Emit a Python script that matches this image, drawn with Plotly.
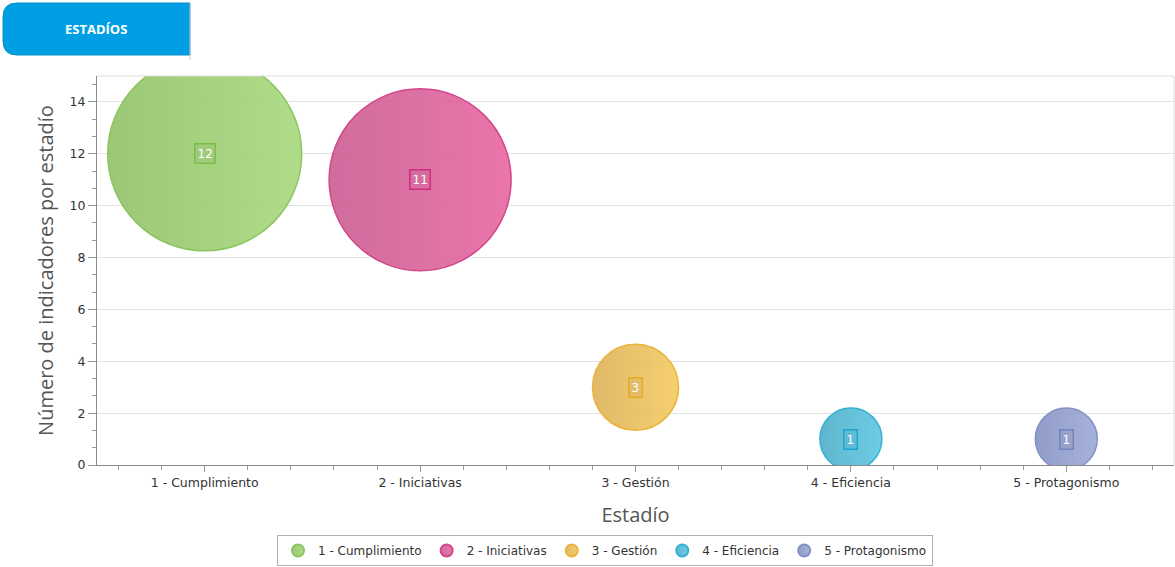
import plotly.graph_objects as go

# Data
estadios = ["1 - Cumplimiento", "2 - Iniciativas", "3 - Gestión", "4 - Eficiencia", "5 - Protagonismo"]
indicadores = [12, 11, 3, 1, 1]

# Styling per stage
fill_dark = ["#8FC064", "#C95A90", "#DCB055", "#4AACC7", "#8290C2"]
fill_light = ["#A6D87A", "#E862A0", "#F4C95C", "#5AC5E2", "#9BA8D6"]
outline = ["#7BBE48", "#D02C7A", "#E8AA22", "#1AA6CF", "#7482BE"]

W, H = 1175, 567
L, R, T, B = 97, 1, 76, 102
PW, PH = W - L - R, H - T - B


def px(x):
    return (x - L) / PW


def py(y):
    return (H - B - y) / PH


fig = go.Figure()

for i, (name, v) in enumerate(zip(estadios, indicadores)):
    fig.add_trace(go.Scatter(
        x=[i], y=[v], name=name, mode="markers",
        marker=dict(
            size=[12 * v + 50], sizemode="diameter", sizeref=1,
            color=fill_dark[i], opacity=0.88,
            gradient=dict(type="horizontal", color=fill_light[i]),
            line=dict(color=outline[i], width=1.5),
        ),
        hoverinfo="x+y",
    ))
    fig.add_annotation(
        x=i, y=v, text=str(v), showarrow=False,
        font=dict(family="DejaVu Sans", size=12, color="white"),
        bordercolor=outline[i], borderwidth=1.5, borderpad=2,
        bgcolor="rgba(0,0,0,0.03)",
    )

# Header tab
r = 14
x0, x1, y0, y1 = 3, 190, 3, 55
path = (
    f"M {px(x1)},{py(y0)} L {px(x0 + r)},{py(y0)} "
    f"Q {px(x0)},{py(y0)} {px(x0)},{py(y0 + r)} "
    f"L {px(x0)},{py(y1 - r)} Q {px(x0)},{py(y1)} {px(x0 + r)},{py(y1)} "
    f"L {px(x1)},{py(y1)} Z"
)
fig.add_shape(type="path", path=path, xref="paper", yref="paper",
              fillcolor="#009FE3", line=dict(color="#0a8fcc", width=1), layer="above")
fig.add_shape(type="line", xref="paper", yref="paper",
              x0=px(190), x1=px(190), y0=py(3), y1=py(60),
              line=dict(color="#c8c8c8", width=1))
fig.add_annotation(x=px(96), y=py(29), xref="paper", yref="paper", text="<b>ESTADÍOS</b>",
                   xanchor="center", yanchor="middle",
                   showarrow=False, font=dict(family="Open Sans", size=13, color="white"))

# Plot frame (top and right)
fig.add_shape(type="line", xref="paper", yref="paper", x0=0, x1=1, y0=1, y1=1,
              line=dict(color="#dcdcdc", width=1))
fig.add_shape(type="line", xref="paper", yref="paper", x0=1, x1=1, y0=0, y1=1,
              line=dict(color="#dcdcdc", width=1))

fig.update_layout(
    width=W, height=H,
    margin=dict(l=L, r=R, t=T, b=B, autoexpand=False),
    paper_bgcolor="white", plot_bgcolor="white",
    font=dict(family="DejaVu Sans", size=12, color="#333"),
    showlegend=True,
    legend=dict(
        orientation="h", x=px(605), xanchor="center", y=py(535), yanchor="top",
        bordercolor="#b0b0b0", borderwidth=1, bgcolor="white",
        font=dict(family="DejaVu Sans", size=12, color="#333"),
        itemsizing="constant",
    ),
)

fig.update_xaxes(
    range=[-0.5, 4.5], tickvals=list(range(len(estadios))), ticktext=estadios,
    showgrid=False, zeroline=False, automargin=False,
    showline=True, linecolor="#8a8a8a", linewidth=1,
    ticks="outside", ticklen=6, tickcolor="#9a9a9a",
    minor=dict(dtick=0.2, tick0=0, ticks="outside", ticklen=4, tickcolor="#9a9a9a"),
    tickfont=dict(family="DejaVu Sans", size=12.5, color="#333"),
    title=dict(text="Estadío", font=dict(family="Open Sans", size=20, color="#555"), standoff=18),
)
fig.update_yaxes(
    range=[0, 15], dtick=2, tick0=0,
    showgrid=True, gridcolor="#e2e2e2", gridwidth=1, zeroline=False, automargin=False,
    showline=True, linecolor="#8a8a8a", linewidth=1,
    ticks="outside", ticklen=8, tickcolor="#9a9a9a",
    minor=dict(dtick=2 / 3, tick0=0, ticks="outside", ticklen=4, tickcolor="#9a9a9a", showgrid=False),
    tickfont=dict(family="DejaVu Sans", size=12.5, color="#333"),
    title=dict(text="Número de indicadores por estadío",
               font=dict(family="Open Sans", size=20, color="#555"), standoff=10),
)

fig.write_html("out.html")
